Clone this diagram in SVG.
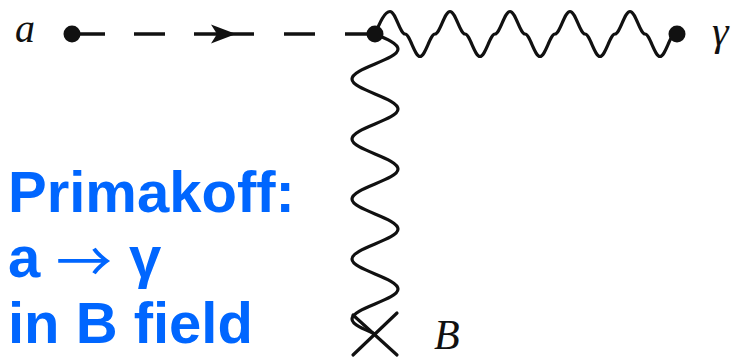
<svg xmlns="http://www.w3.org/2000/svg" width="736" height="359" viewBox="0 0 736 359">
<style>
.ln{stroke:#111;stroke-width:3.5;fill:none}
.wv{stroke:#111;stroke-width:3.2;fill:none;stroke-linecap:round}
.dot{fill:#111}
.lbl{font-family:"Liberation Serif","Times New Roman",serif;font-style:italic;fill:#111}
.blue{font-family:"Liberation Sans",Arial,sans-serif;font-weight:bold;font-size:58px;fill:#0066ff}
.arr{font-family:"Noto Sans CJK JP","Noto Sans CJK SC",sans-serif;font-size:56px;fill:#0066ff}
</style>
<rect width="736" height="359" fill="#fff"/>
<g id="connectors">
  <g id="axion-line">
    <line class="ln" x1="72" y1="34" x2="105" y2="34"/>
    <line class="ln" x1="134" y1="34" x2="165" y2="34"/>
    <line class="ln" x1="194" y1="34" x2="254" y2="34"/>
    <line class="ln" x1="284" y1="34" x2="315" y2="34"/>
    <line class="ln" x1="345" y1="34" x2="375" y2="34"/>
    <polygon class="dot" points="236,34 211,24.5 217,34 211,43.5"/>
  </g>
  <path id="photon-out" class="wv" d="M375,34 c4.892,-11.5 9.571,-22.5 15,-22.5 s10.108,22.5 15,22.5 s9.571,22.5 15,22.5 s10.108,-22.5 15,-22.5 s9.571,-22.5 15,-22.5 s10.108,22.5 15,22.5 s9.571,22.5 15,22.5 s10.108,-22.5 15,-22.5 s9.571,-22.5 15,-22.5 s10.108,22.5 15,22.5 s9.571,22.5 15,22.5 s10.108,-22.5 15,-22.5 s9.571,-22.5 15,-22.5 s10.108,22.5 15,22.5 s9.571,22.5 15,22.5 s10.108,-22.5 15,-22.5 s9.571,-22.5 15,-22.5 s10.108,22.5 15,22.5 s9.571,22.5 15,22.5 s10.108,-22.5 15,-22.5"/>
  <path id="photon-B" class="wv" d="M375,34 c11.78,4.892 23,9.571 23,15 s-11.22,10.108 -23,15 s-23,9.571 -23,15 s11.22,10.108 23,15 s23,9.571 23,15 s-11.22,10.108 -23,15 s-23,9.571 -23,15 s11.22,10.108 23,15 s23,9.571 23,15 s-11.22,10.108 -23,15 s-23,9.571 -23,15 s11.22,10.108 23,15 s23,9.571 23,15 s-11.22,10.108 -23,15 s-23,9.571 -23,15 s11.22,10.108 23,15 s23,9.571 23,15 s-11.22,10.108 -23,15 s-23,9.571 -23,15 s11.22,10.108 23,15"/>
</g>
<g id="node-a">
  <circle class="dot" cx="72" cy="34" r="8.5"/>
  <text class="lbl" x="15" y="42" font-size="40">a</text>
</g>
<g id="node-vertex">
  <circle class="dot" cx="375" cy="34" r="8.5"/>
</g>
<g id="node-gamma">
  <circle class="dot" cx="677" cy="34" r="8.5"/>
  <text class="lbl" x="712" y="45" font-size="42">γ</text>
</g>
<g id="node-B">
  <line class="wv" x1="353" y1="315" x2="397" y2="355"/>
  <line class="wv" x1="397" y1="313" x2="353" y2="355"/>
  <text class="lbl" x="434" y="349" font-size="42">B</text>
</g>
<g id="caption">
  <text class="blue" x="8" y="212">Primakoff:</text>
  <text class="blue" x="8" y="277">a</text>
  <text class="arr" x="56" y="282">→</text>
  <text class="blue" x="129" y="277">γ</text>
  <text class="blue" x="8" y="343">in B field</text>
</g>
</svg>
